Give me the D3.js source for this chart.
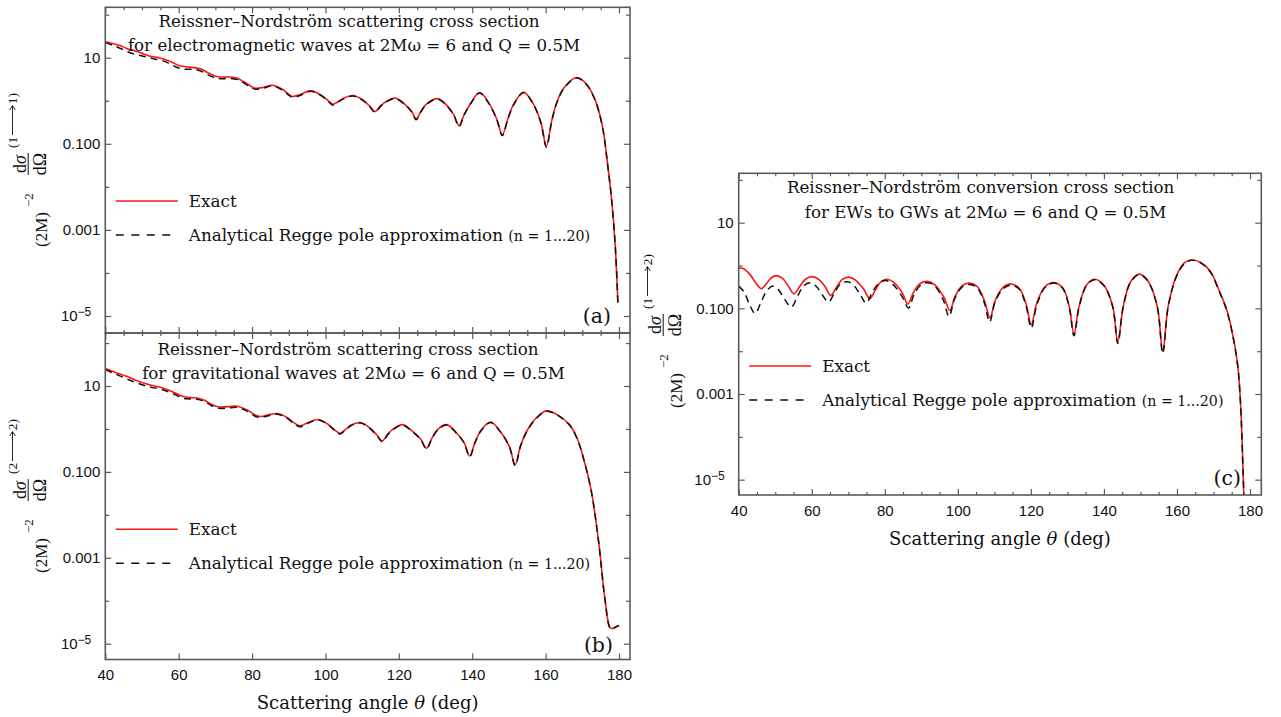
<!DOCTYPE html>
<html><head><meta charset="utf-8">
<script src="https://cdn.jsdelivr.net/npm/d3@7"></script>
<style>
html,body{margin:0;padding:0;background:#fff;}
svg{display:block;}
</style></head><body>
<svg id="chart" width="1281" height="717"></svg>
<script>
// ---------------- DATA ----------------
// Panel (a): EM -> EM scattering
const thetaA = [40,42,44,46,48,50,52,54,56,58,60,62,64,66,68,70,72,74,76,78,80,81,83,85.5,88,90,91,93,96,99,101,102,103.5,105,107.5,110,112,113.5,115,116.5,119,121.5,123.5,124.7,126,127.5,130.5,133,135,136.4,137.8,139.5,142,144.5,146.7,148.2,149.7,151.3,154,156.5,158.7,160.2,161.7,163,165,168.5,171,173.5,175.5,177,178,179,179.7];
const exactA = [23.4,21.4,19.1,16.2,14.5,12.6,11.0,10.2,9.33,7.94,6.61,6.17,5.89,5.50,4.47,3.72,3.55,3.55,3.31,2.69,2.09,1.95,2.04,2.29,1.91,1.41,1.26,1.38,1.70,1.32,0.955,0.832,0.955,1.15,1.32,1.07,0.759,0.562,0.759,0.955,1.15,0.851,0.562,0.380,0.562,0.832,1.12,0.794,0.468,0.263,0.479,0.851,1.55,0.891,0.372,0.162,0.380,0.832,1.58,0.891,0.316,0.0891,0.355,0.891,2.00,3.47,2.51,1.05,0.251,0.0282,0.00501,0.000398,0.0000200];
const reggeA = [22.4,19.5,16.6,13.8,12.0,11.0,10.0,9.12,8.32,6.92,5.75,5.37,5.37,4.90,3.98,3.39,3.24,3.31,3.09,2.51,1.95,1.86,1.95,2.19,1.82,1.35,1.20,1.32,1.66,1.29,0.933,0.794,0.933,1.12,1.29,1.05,0.741,0.537,0.741,0.933,1.12,0.832,0.550,0.363,0.550,0.813,1.10,0.776,0.457,0.251,0.468,0.832,1.51,0.871,0.363,0.155,0.372,0.813,1.55,0.871,0.309,0.0832,0.347,0.871,1.95,3.39,2.45,1.02,0.245,0.0275,0.00490,0.000389,0.0000190];

// Panel (b): GW -> GW scattering
const thetaB = [40,43,46,49,52,55,58,61,63,65,67,69,71,73.5,76,78.5,81,82.5,84.5,87,89.5,91.5,93,95,98,100.5,102.5,104,105.5,107,109.5,112,114,115.5,117,118.5,121,123.5,126,127.5,129,130.5,133,135.5,137.8,139.3,140.8,142.5,145,147.5,150.1,151.7,153.2,155,157.5,160.2,163,166.5,168.5,170.2,172.4,174.4,176.2,177.5,178.1,179,180];
const exactB = [25.7,20.4,16.6,12.9,10.7,9.33,7.59,5.75,5.37,5.25,4.68,3.72,3.24,3.31,3.39,2.82,2.09,1.95,2.14,2.29,1.86,1.38,1.18,1.38,1.66,1.32,0.955,0.794,0.977,1.23,1.41,1.07,0.724,0.525,0.759,1.00,1.26,0.912,0.575,0.355,0.603,0.955,1.26,0.851,0.479,0.234,0.501,0.955,1.45,0.912,0.398,0.148,0.417,0.933,1.82,2.63,2.19,1.26,0.631,0.229,0.0380,0.00257,0.000105,0.0000240,0.0000224,0.0000245,0.0000269];
const reggeB = [24.0,18.6,14.5,11.5,9.55,8.51,6.92,5.25,5.01,4.90,4.37,3.47,3.02,3.09,3.16,2.63,1.95,1.86,2.04,2.19,1.78,1.32,1.12,1.32,1.62,1.29,0.933,0.759,0.955,1.20,1.38,1.05,0.708,0.501,0.741,0.977,1.23,0.891,0.562,0.339,0.589,0.933,1.23,0.832,0.468,0.224,0.490,0.933,1.41,0.891,0.389,0.141,0.407,0.912,1.78,2.57,2.14,1.23,0.617,0.224,0.0372,0.00251,0.000102,0.0000234,0.0000219,0.0000240,0.0000263];

// Panel (c): EM -> GW conversion
const thetaCExact = [40,41.2,43,44.8,46.2,47.8,49,50.3,52,53.6,55.1,56.6,58.3,60.2,62,63.7,65.2,66.7,68.3,70.1,72,74.2,75.9,77.4,78.9,80.6,82.5,84.8,86.3,87.9,89.7,91.7,93.7,96.2,97.8,99.3,101.2,103.2,105.3,107.3,108.8,110.3,112.4,114.6,116.8,118.7,120.1,121.6,123.8,126.3,128.7,130.5,131.8,133.2,135.2,137.4,140,142.4,143.8,145.3,147.3,149.7,152,154.6,156.1,157.6,159.8,162,164,166.5,169.2,171.5,173.5,175,176.6,177.4,178.1,178.6];
const exactC = [0.871,0.851,0.631,0.380,0.288,0.398,0.525,0.582,0.501,0.331,0.219,0.316,0.479,0.550,0.468,0.316,0.200,0.302,0.468,0.537,0.457,0.282,0.170,0.263,0.417,0.479,0.398,0.229,0.126,0.240,0.380,0.427,0.355,0.182,0.0891,0.195,0.339,0.389,0.324,0.151,0.0603,0.158,0.309,0.372,0.295,0.126,0.0417,0.132,0.316,0.398,0.302,0.112,0.0251,0.112,0.347,0.479,0.347,0.112,0.0166,0.112,0.417,0.631,0.447,0.112,0.0100,0.112,0.562,1.15,1.35,1.18,0.724,0.269,0.100,0.0316,0.00501,0.000631,0.0000158,0.00000063];
const thetaCRegge = [40,41.5,43,44.5,46,47.6,49.3,51,52.7,54.4,56.1,57.8,59.6,61.4,63,64.6,66.3,68,69.9,71.7,73.4,74.9,76.6,78.3,80.2,82.2,84.7,86.5,88,89.8,91.7,93.7,96,97.6,99.1,101.2,103.2,105.3,107.3,108.7,110.2,112.4,114.6,116.8,118.7,120.1,121.6,123.8,126.3,128.7,130.5,131.8,133.2,135.2,137.4,140,142.4,143.8,145.3,147.3,149.7,152,154.6,156.1,157.6,159.8,162,164,166.5,169.2,171.5,173.5,175,176.6,177.4,178.1,178.6];
const reggeC = [0.331,0.240,0.120,0.0759,0.132,0.251,0.331,0.263,0.158,0.107,0.191,0.339,0.398,0.316,0.200,0.141,0.240,0.380,0.417,0.331,0.200,0.132,0.240,0.380,0.447,0.363,0.191,0.102,0.209,0.347,0.398,0.331,0.158,0.0646,0.166,0.316,0.363,0.302,0.132,0.0479,0.141,0.288,0.347,0.282,0.112,0.0347,0.117,0.302,0.389,0.295,0.107,0.0229,0.107,0.339,0.468,0.339,0.110,0.0151,0.110,0.407,0.617,0.437,0.110,0.00891,0.110,0.537,1.10,1.32,1.15,0.692,0.257,0.0955,0.0302,0.00479,0.000603,0.0000151,0.00000063];

// Tick labels and texts
const xTickValues = [40,60,80,100,120,140,160,180];
const xMinorValues = [45,50,55,65,70,75,85,90,95,105,110,115,125,130,135,145,150,155,165,170,175];
const yTickValues = [10,0.1,0.001,0.00001];
const yTickLabels = ["10","0.100","0.001","10^-5"];
const yMinorValues = [100,1,0.01,0.0001];
const titlesA = ["Reissner\u2013Nordstr\u00f6m scattering cross section","for electromagnetic waves at 2M\u03c9 = 6 and Q = 0.5M"];
const titlesB = ["Reissner\u2013Nordstr\u00f6m scattering cross section","for gravitational waves at 2M\u03c9 = 6 and Q = 0.5M"];
const titlesC = ["Reissner\u2013Nordstr\u00f6m conversion cross section","for EWs to GWs at 2M\u03c9 = 6 and Q = 0.5M"];
const legendLabels = ["Exact","Analytical Regge pole approximation ","(n = 1...20)"];
const xAxisTitle = ["Scattering angle ","\u03b8"," (deg)"];

// ---------------- LAYOUT ----------------
const svg = d3.select("#chart");
const SERIF = "'DejaVu Serif', 'Liberation Serif', serif";
const MATH = "'Liberation Serif', 'DejaVu Serif', serif";
const SANS = "'Liberation Sans', Arial, sans-serif";
const FRAME = "#5a5a5a";
const INK = "#111";

const panels = [
  {id:"a", xr:[105.3,619], fx:[105.3,630], yr:[316,57.7], fy:[7.3,333],
   tE:thetaA, e:exactA, tR:thetaA, r:reggeA, titles:titlesA, tcx:[349,354], tby:[27,51],
   ch:["1","1"], lab:[47,170], tag:"(a)", tagPos:[611,323], xlabels:false, bottomMinor:true},
  {id:"b", xr:[105.3,619], fx:[105.3,630], yr:[643.7,386], fy:[333,659.5],
   tE:thetaB, e:exactB, tR:thetaB, r:reggeB, titles:titlesB, tcx:[348,353.5], tby:[355,379],
   ch:["2","2"], lab:[47,496], tag:"(b)", tagPos:[613,652], xlabels:true, bottomMinor:false, xtitleY:709},
  {id:"c", xr:[738.7,1250], fx:[738.7,1261.3], yr:[479.7,222.7], fy:[173.3,495],
   tE:thetaCExact, e:exactC, tR:thetaCRegge, r:reggeC, titles:titlesC, tcx:[980.6,985.6], tby:[193,218],
   ch:["1","2"], lab:[682,331], tag:"(c)", tagPos:[1241,485], xlabels:true, bottomMinor:true, xtitleY:545}
];

panels.forEach(p => {
  const x = d3.scaleLinear().domain([40,180]).range(p.xr);
  const y = d3.scaleLog().domain([1e-5,10]).range(p.yr);
  const [x0,x1] = p.fx, [y0,y1] = p.fy;
  const g = svg.append("g");

  svg.append("clipPath").attr("id","clip-"+p.id)
    .append("rect").attr("x",x0).attr("y",y0).attr("width",x1-x0).attr("height",y1-y0);

  // curves
  const line = d3.line().x(d=>x(d[0])).y(d=>y(d[1])).curve(d3.curveCatmullRom.alpha(0.5));
  const cg = g.append("g").attr("clip-path","url(#clip-"+p.id+")");
  cg.append("path").datum(p.tE.map((t,i)=>[t,p.e[i]]))
    .attr("d",line).attr("fill","none").attr("stroke","#ff1414").attr("stroke-width",1.6);
  cg.append("path").datum(p.tR.map((t,i)=>[t,p.r[i]]))
    .attr("d",line).attr("fill","none").attr("stroke",INK).attr("stroke-width",1.5)
    .attr("stroke-dasharray","7,5");

  // axes (ticks inside)
  const styleAxis = sel => { sel.select(".domain").remove(); sel.selectAll(".tick line").attr("stroke",FRAME).attr("stroke-width",1.2); };
  const bAx = g.append("g").attr("transform",`translate(0,${y1})`)
    .call(d3.axisBottom(x).tickValues(xTickValues).tickSize(-6).tickPadding(10)
      .tickFormat(p.xlabels ? d3.format("d") : ()=>""))
    .call(styleAxis);
  bAx.selectAll("text").attr("font-family",SANS).attr("font-size",15).attr("fill",INK);
  if (p.bottomMinor) {
    g.append("g").attr("transform",`translate(0,${y1})`)
      .call(d3.axisBottom(x).tickValues(xMinorValues).tickSize(-3).tickFormat(()=>"")).call(styleAxis);
  }
  g.append("g").attr("transform",`translate(0,${y0})`)
    .call(d3.axisTop(x).tickValues(xTickValues).tickSize(-6).tickFormat(()=>"")).call(styleAxis);
  g.append("g").attr("transform",`translate(0,${y0})`)
    .call(d3.axisTop(x).tickValues(xMinorValues).tickSize(-3).tickFormat(()=>"")).call(styleAxis);
  const lAx = g.append("g").attr("transform",`translate(${x0},0)`)
    .call(d3.axisLeft(y).tickValues(yTickValues).tickSize(-6).tickPadding(5)
      .tickFormat((d,i)=>yTickLabels[i]))
    .call(styleAxis);
  lAx.selectAll("text").attr("font-family",SANS).attr("font-size",15).attr("fill",INK);
  lAx.selectAll("text").filter(d=>d===0.00001).each(function(){
    const t = d3.select(this).text("").attr("dx",-9);
    t.append("tspan").text("10");
    t.append("tspan").attr("dy","-0.45em").attr("font-size",12).text("\u22125");
  });
  g.append("g").attr("transform",`translate(${x0},0)`)
    .call(d3.axisLeft(y).tickValues(yMinorValues).tickSize(-4).tickFormat(()=>"")).call(styleAxis);
  g.append("g").attr("transform",`translate(${x1},0)`)
    .call(d3.axisRight(y).tickValues(yTickValues).tickSize(-6).tickFormat(()=>"")).call(styleAxis);
  g.append("g").attr("transform",`translate(${x1},0)`)
    .call(d3.axisRight(y).tickValues(yMinorValues).tickSize(-4).tickFormat(()=>"")).call(styleAxis);

  // frame
  g.append("rect").attr("x",x0).attr("y",y0).attr("width",x1-x0).attr("height",y1-y0)
    .attr("fill","none").attr("stroke",FRAME).attr("stroke-width",1.6);

  // titles
  p.titles.forEach((t,i)=>{
    g.append("text").attr("x",p.tcx[i]).attr("y",p.tby[i]).attr("text-anchor","middle")
      .attr("font-family",SERIF).attr("font-size",16.7).attr("fill",INK).text(t);
  });

  // legend
  const ly1 = y(10) + 143.3, ly2 = y(10) + 177.3;
  const lx = x0 + 10.5;
  g.append("line").attr("x1",lx).attr("x2",lx+62).attr("y1",ly1).attr("y2",ly1)
    .attr("stroke","#ff1414").attr("stroke-width",1.6);
  g.append("text").attr("x",lx+73).attr("y",ly1+5.8).attr("font-family",SERIF).attr("font-size",16.8)
    .attr("fill",INK).text(legendLabels[0]);
  g.append("line").attr("x1",lx).attr("x2",lx+57).attr("y1",ly2).attr("y2",ly2)
    .attr("stroke",INK).attr("stroke-width",1.5).attr("stroke-dasharray","8,7.5");
  const lt = g.append("text").attr("x",lx+73).attr("y",ly2+5.8).attr("font-family",SERIF).attr("font-size",16.8)
    .attr("fill",INK);
  lt.append("tspan").text(legendLabels[1]);
  lt.append("tspan").attr("font-size",14.2).text(legendLabels[2]);

  // panel tag
  g.append("text").attr("x",p.tagPos[0]).attr("y",p.tagPos[1]).attr("text-anchor","end")
    .attr("font-family",SERIF).attr("font-size",20.5).attr("fill",INK).text(p.tag);

  // x axis title
  if (p.xlabels) {
    const xt = g.append("text").attr("x",(x0+x1)/2).attr("y",p.xtitleY).attr("text-anchor","middle")
      .attr("font-family",SERIF).attr("font-size",18).attr("fill",INK);
    xt.append("tspan").text(xAxisTitle[0]);
    xt.append("tspan").attr("font-style","italic").text(xAxisTitle[1]);
    xt.append("tspan").text(xAxisTitle[2]);
  }

  // y axis label (rotated): (2M)^-2 dσ/dΩ (i⟶j)
  const yl = g.append("g").attr("transform",`translate(${p.lab[0]},${p.lab[1]}) rotate(-90)`)
    .attr("font-family",MATH).attr("fill",INK);
  yl.append("text").attr("x",-77).attr("y",0).attr("font-size",17).text("(2M)");
  yl.append("text").attr("x",-37).attr("y",-14).attr("font-size",13).text("\u22122");
  const num = yl.append("text").attr("x",6).attr("y",-21.5).attr("text-anchor","middle").attr("font-size",18);
  num.append("tspan").text("d");
  num.append("tspan").attr("font-style","italic").text("\u03c3");
  yl.append("line").attr("x1",-5).attr("x2",17).attr("y1",-18.8).attr("y2",-18.8).attr("stroke",INK).attr("stroke-width",1);
  yl.append("text").attr("x",6).attr("y",-1).attr("text-anchor","middle").attr("font-size",18).text("d\u03a9");
  yl.append("text").attr("x",22).attr("y",-30).attr("font-size",13.5).text("(" + p.ch[0]);
  yl.append("text").attr("x",77).attr("y",-30).attr("text-anchor","end").attr("font-size",13.5).text(p.ch[1] + ")");
  yl.append("path").attr("d","M35,-34.5 L64,-34.5 M60,-37.3 L64.5,-34.5 L60,-31.7")
    .attr("fill","none").attr("stroke",INK).attr("stroke-width",0.9);
});
</script>
</body></html>
